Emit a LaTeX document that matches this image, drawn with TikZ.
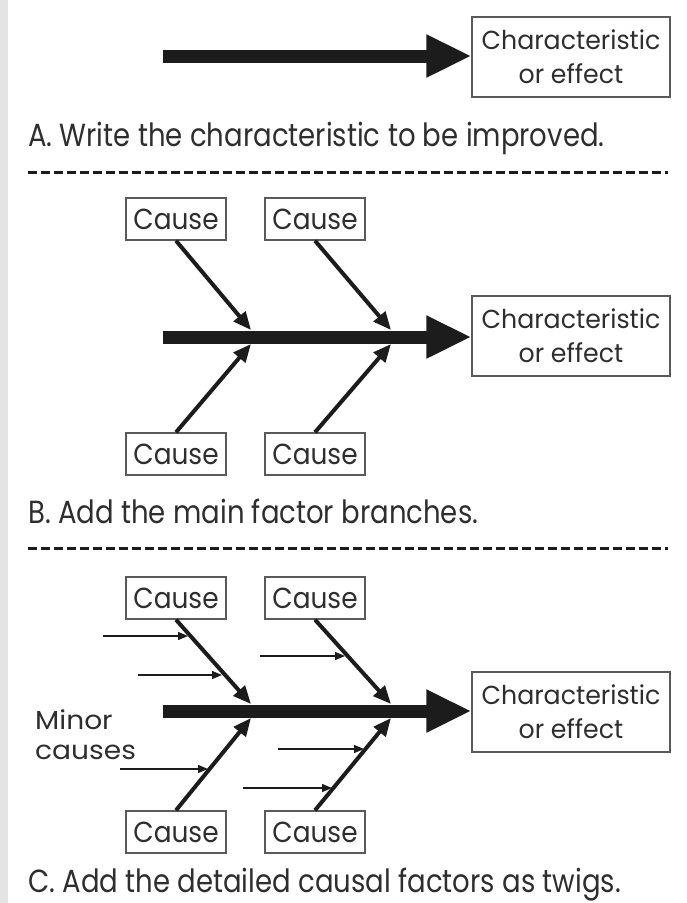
\documentclass[tikz,border=0pt]{standalone}
\usepackage{fontspec}
\setmainfont{Poppins}
% narrowed faces for the different text sizes
\newfontfamily\capfont{Poppins}[FakeStretch=0.86]
\newfontfamily\effectfont{Poppins}[FakeStretch=0.97]
\newfontfamily\causefont{Poppins}[FakeStretch=0.91]
\newfontfamily\minorfont{Poppins}[FakeStretch=1.08]
\usetikzlibrary{arrows.meta,calc}
\definecolor{ink}{HTML}{1C1C1C}
\definecolor{txt}{HTML}{2E2E2E}
\definecolor{frame}{HTML}{5A5A5A}
\definecolor{strip}{HTML}{E4E4E4}
\tikzset{
  effectbox/.style={draw=frame, line width=1.4pt, minimum width=198pt, minimum height=80pt,
    inner sep=0pt, align=center, text=txt, font=\effectfont\fontsize{26}{34}\selectfont},
  causebox/.style={draw=frame, line width=1.4pt, minimum width=100pt, minimum height=42pt,
    inner sep=0pt, text=txt, font=\causefont\fontsize{29}{30}\selectfont},
  spine/.style={draw=ink, line width=13pt, -{Triangle[length=45pt,width=40pt]}},
  bone/.style={draw=ink, line width=4pt, -{Triangle[length=18pt,width=15pt]}},
  twig/.style={draw=ink, line width=1.3pt, -{Triangle[length=10pt,width=8pt]}},
  caption/.style={anchor=base west, inner sep=0pt, text=txt, font=\capfont\fontsize{32}{36}\selectfont},
  divider/.style={draw=ink, line width=3pt, dash pattern=on 9pt off 4pt},
  minor/.style={anchor=base west, inner sep=0pt, align=left, text=txt, font=\minorfont\fontsize{26}{30}\selectfont},
}
\begin{document}
\begin{tikzpicture}[x=1pt, y=-1pt]
  \useasboundingbox (0,0) rectangle (686,903);
  \fill[strip] (0,0) rectangle (8,903);

  % ---------- A: spine and effect only ----------
  \node[effectbox] (effA) at (571,57) {Characteristic\\or effect};
  \coordinate (tailA) at (163,56);
  \draw[spine] (tailA) -- (effA.west |- tailA);
  \node[caption] (capA) at (28,146) {A. Write the characteristic to be improved.};
  \coordinate (divA1) at (28,172);
  \coordinate (divA2) at (668,172);
  \draw[divider] (divA1) -- (divA2);

  % ---------- B: main factor branches ----------
  \node[effectbox] (effB) at (571,336) {Characteristic\\or effect};
  \coordinate (tailB) at (163,337);
  \draw[spine] (tailB) -- (effB.west |- tailB);
  \node[causebox] (bT1) at (176,219) {Cause};
  \node[causebox] (bT2) at (315,219) {Cause};
  \node[causebox] (bB1) at (176,454) {Cause};
  \node[causebox] (bB2) at (315,454) {Cause};
  \coordinate (jBt1) at (251,330);
  \coordinate (jBt2) at (391,330);
  \coordinate (jBb1) at (251,344);
  \coordinate (jBb2) at (391,344);
  \draw[bone] (bT1.south) -- (jBt1);
  \draw[bone] (bT2.south) -- (jBt2);
  \draw[bone] (bB1.north) -- (jBb1);
  \draw[bone] (bB2.north) -- (jBb2);
  \node[caption] (capB) at (28,523) {B. Add the main factor branches.};
  \coordinate (divB1) at (28,548);
  \coordinate (divB2) at (668,548);
  \draw[divider] (divB1) -- (divB2);

  % ---------- C: twigs on the branches ----------
  \node[effectbox] (effC) at (571,712) {Characteristic\\or effect};
  \coordinate (tailC) at (163,711);
  \draw[spine] (tailC) -- (effC.west |- tailC);
  \node[causebox] (cT1) at (176,598) {Cause};
  \node[causebox] (cT2) at (315,598) {Cause};
  \node[causebox] (cB1) at (176,832) {Cause};
  \node[causebox] (cB2) at (315,832) {Cause};
  \coordinate (jCt1) at (251,704);
  \coordinate (jCt2) at (391,704);
  \coordinate (jCb1) at (251,718);
  \coordinate (jCb2) at (391,718);
  \draw[bone] (cT1.south) -- (jCt1);
  \draw[bone] (cT2.south) -- (jCt2);
  \draw[bone] (cB1.north) -- (jCb1);
  \draw[bone] (cB2.north) -- (jCb2);

  % twig end points, on the branches
  \coordinate (e1) at (188,636);
  \coordinate (e2) at (222,675);
  \coordinate (e3) at (345,656);
  \coordinate (e4) at (208,769);
  \coordinate (e5) at (364,749);
  \coordinate (e6) at (332,788);
  % twig start points
  \coordinate (s1) at (103,636);
  \coordinate (s2) at (138,675);
  \coordinate (s3) at (260,656);
  \coordinate (s4) at (120,769);
  \coordinate (s5) at (278,749);
  \coordinate (s6) at (243,788);
  \foreach \i in {1,...,6} { \draw[twig] (s\i) -- (e\i); }

  % the label's base anchor sits on its last line
  \node[minor] (minorlbl) at (35,759) {Minor\\causes};
  \node[caption] (capC) at (28,892) {C. Add the detailed causal factors as twigs.};
\end{tikzpicture}
\end{document}
